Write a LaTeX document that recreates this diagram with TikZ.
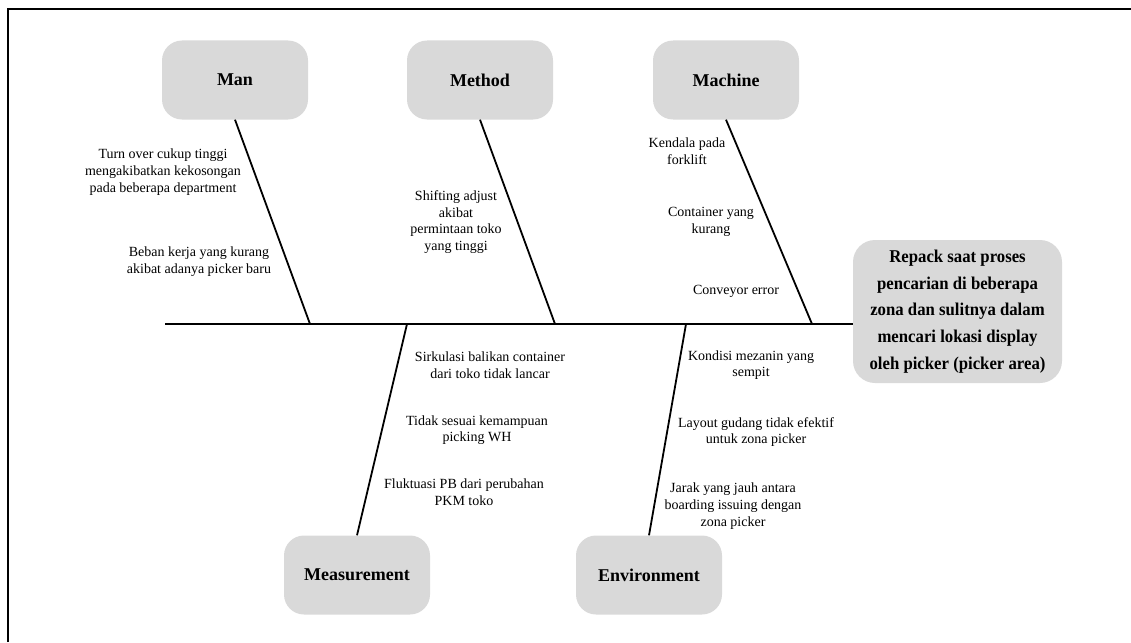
\documentclass[tikz,border=0pt]{standalone}
\usepackage{fontspec}
\setmainfont{Liberation Serif}
\newfontfamily\headfont[FakeStretch=0.93]{Liberation Serif}
\usetikzlibrary{positioning,calc}
\definecolor{boxgray}{RGB}{217,217,217}

\begin{document}
\begin{tikzpicture}[x=1pt,y=-1pt]
    \tikzset{CauseStyle/.style= {rectangle,
        rounded corners = 20pt,
        fill  = boxgray,
        minimum width  = 146pt,
        minimum height = 79pt,
        font  = \fontsize{18}{22}\selectfont\bfseries},
      EffectStyle/.style = {rectangle, rounded corners=22pt, fill=boxgray,
        minimum width=209pt, minimum height=143pt, align=center,
        font=\headfont\fontsize{18}{26.7}\selectfont\bfseries},
      NoteStyle/.style = {align=center, inner sep=0pt,
        font=\fontsize{14}{16.7}\selectfont},
      BoneStyle/.style = {line width=1.8pt},
      SpineStyle/.style = {line width=2.6pt}}
    \useasboundingbox (0,0) rectangle (1131,642);
    \draw[line width=2.6pt] (8,642) -- (8,9) -- (1131,9);
    % head and spine
    \node[EffectStyle] (effect) at (957.5,311.5) {Repack saat proses\\pencarian di beberapa\\zona dan sulitnya dalam\\mencari lokasi display\\oleh picker (picker area)};
    \coordinate (tail) at (165,324);
    \draw[SpineStyle] (tail) -- (tail -| effect.west);
    % causes
    \node[CauseStyle] (man) at (235,80) {Man};
    \node[CauseStyle] (method) at (480,80) {Method};
    \node[CauseStyle] (machine) at (726,80) {Machine};
    \node[CauseStyle] (measure) at (357,575) {Measurement};
    \node[CauseStyle] (environ) at (649,575) {Environment};
    \coordinate (manJoin) at (310,324);
    \coordinate (methodJoin) at (555,324);
    \coordinate (machineJoin) at (812,324);
    \coordinate (measureJoin) at (407,324);
    \coordinate (environJoin) at (686,324);
    \draw[BoneStyle] (man.south) -- (manJoin);
    \draw[BoneStyle] (method.south) -- (methodJoin);
    \draw[BoneStyle] (machine.south) -- (machineJoin);
    \draw[BoneStyle] (measure.north) -- (measureJoin);
    \draw[BoneStyle] (environ.north) -- (environJoin);
    % sub causes
    \node[NoteStyle] (man1) at (163,172) {Turn over cukup tinggi\\mengakibatkan kekosongan\\pada beberapa department};
    \node[NoteStyle] (man2) at (199,262) {Beban kerja yang kurang\\akibat adanya picker baru};
    \node[NoteStyle] (method1) at (456,222) {Shifting adjust\\akibat\\permintaan toko\\yang tinggi};
    \node[NoteStyle] (machine1) at (687,151) {Kendala pada\\forklift};
    \node[NoteStyle] (machine2) at (711,222) {Container yang\\kurang};
    \node[NoteStyle] (machine3) at (736,291) {Conveyor error};
    \node[NoteStyle] (measure1) at (490,365) {Sirkulasi balikan container\\dari toko tidak lancar};
    \node[NoteStyle] (measure2) at (477,430) {Tidak sesuai kemampuan\\picking WH};
    \node[NoteStyle] (measure3) at (464,492) {Fluktuasi PB dari perubahan\\PKM toko};
    \node[NoteStyle] (environ1) at (751,365) {Kondisi mezanin yang\\sempit};
    \node[NoteStyle] (environ2) at (756,432) {Layout gudang tidak efektif\\untuk zona picker};
    \node[NoteStyle] (environ3) at (733,506) {Jarak yang jauh antara\\boarding issuing dengan\\zona picker};
\end{tikzpicture}
\end{document}
